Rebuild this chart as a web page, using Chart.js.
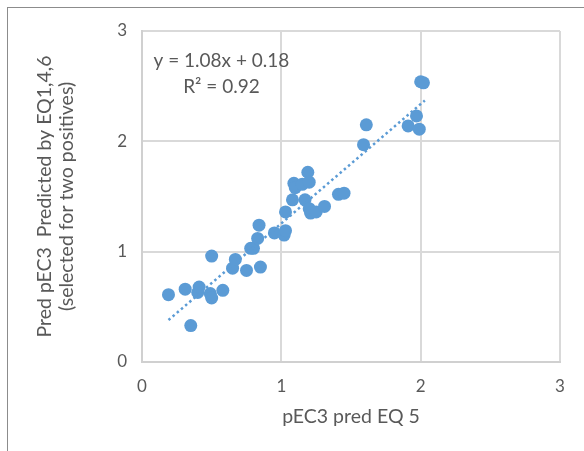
<!DOCTYPE html>
<html>
<head>
<meta charset="utf-8">
<script src="https://cdn.jsdelivr.net/npm/chart.js@4"></script>
<style>
  html, body { margin: 0; padding: 0; background: #fff; }
  #wrap { position: relative; width: 584px; height: 451px; overflow: hidden; }
  #frame { position: absolute; left: 7px; top: 7px; width: 620px; height: 480px;
           border-left: 1px solid #8c8c8c; border-top: 1px solid #8c8c8c; pointer-events: none; }
</style>
</head>
<body>
<div id="wrap">
  <canvas id="scatterChart" width="584" height="451"></canvas>
  <div id="frame"></div>
</div>
<script>
// pEC3 pred EQ 5 (x) vs Pred pEC3 by EQ1,4,6 (y)
const xValues = [0.19, 0.31, 0.35, 0.40, 0.41, 0.50, 0.49, 0.50, 0.58, 0.65,
                 0.67, 0.75, 0.78, 0.80, 0.83, 0.84, 0.85, 0.95, 1.02, 1.03,
                 1.03, 1.08, 1.09, 1.10, 1.15, 1.17, 1.19, 1.20, 1.20, 1.21,
                 1.25, 1.31, 1.41, 1.45, 1.59, 1.61, 1.91, 1.97, 1.99, 2.00, 2.02];
const yValues = [0.61, 0.66, 0.33, 0.63, 0.68, 0.96, 0.62, 0.58, 0.65, 0.85,
                 0.93, 0.83, 1.03, 1.03, 1.12, 1.24, 0.86, 1.17, 1.15, 1.19,
                 1.36, 1.47, 1.62, 1.58, 1.61, 1.47, 1.72, 1.63, 1.39, 1.35,
                 1.36, 1.41, 1.52, 1.53, 1.97, 2.15, 2.14, 2.23, 2.11, 2.54, 2.53];
// linear trendline end points (y = 1.08x + 0.18)
const trendX = [0.19, 2.03];
const trendY = [0.38, 2.37];
const tickValues = [0, 1, 2, 3];
const equationLines = ['y = 1.08x + 0.18', 'R² = 0.92'];

const FONT = 'Lato, "Open Sans", sans-serif';
const TEXT = '#595959';
const BLUE = '#5B9BD5';

const equationLabel = {
    id: 'equationLabel',
    afterDatasetsDraw(chart) {
        const {ctx, scales: {x, y}} = chart;
        ctx.save();
        ctx.font = '19px ' + FONT;
        ctx.fillStyle = TEXT;
        ctx.textAlign = 'center';
        ctx.textBaseline = 'middle';
        ctx.fillText(equationLines[0], x.getPixelForValue(0.57), y.getPixelForValue(2.73));
        ctx.fillText(equationLines[1], x.getPixelForValue(0.57), y.getPixelForValue(2.49));
        ctx.restore();
    }
};

const ctx = document.getElementById('scatterChart').getContext('2d');
const scatterChart = new Chart(ctx, {
    type: 'scatter',
    data: {
        datasets: [{
            label: 'data',
            data: xValues.map((v, i) => ({x: v, y: yValues[i]})),
            backgroundColor: BLUE,
            borderColor: BLUE,
            borderWidth: 0,
            pointRadius: 6.5,
            order: 1
        }, {
            label: 'trend',
            type: 'line',
            data: trendX.map((v, i) => ({x: v, y: trendY[i]})),
            borderColor: BLUE,
            borderWidth: 2.5,
            borderDash: [2.5, 3],
            pointRadius: 0,
            fill: false,
            order: 0
        }]
    },
    options: {
        responsive: false,
        animation: false,
        layout: {
            padding: {left: 0, top: 31, right: 24, bottom: 19}
        },
        plugins: {
            legend: {display: false},
            tooltip: {enabled: false}
        },
        scales: {
            x: {
                type: 'linear',
                min: 0,
                max: 3,
                afterBuildTicks: (scale) => { scale.ticks = tickValues.map(v => ({value: v})); },
                afterFit: (scale) => { scale.height = 70; },
                grid: {color: '#d9d9d9', lineWidth: 2, drawTicks: false},
                border: {color: '#d0d0d0', width: 2},
                ticks: {color: TEXT, font: {family: FONT, size: 17}, padding: 14},
                title: {
                    display: true,
                    text: 'pEC3 pred EQ 5',
                    color: TEXT,
                    font: {family: FONT, size: 19.5, lineHeight: 1.13},
                    padding: {top: 0, bottom: 4}
                }
            },
            y: {
                type: 'linear',
                min: 0,
                max: 3,
                afterBuildTicks: (scale) => { scale.ticks = tickValues.map(v => ({value: v})); },
                afterFit: (scale) => { scale.width = 142; },
                grid: {color: '#d9d9d9', lineWidth: 2, drawTicks: false},
                border: {color: '#d0d0d0', width: 2},
                ticks: {color: TEXT, font: {family: FONT, size: 17}, padding: 15},
                title: {
                    display: true,
                    text: ['Pred pEC3  Predicted by EQ1,4,6', '(selected for two positives)'],
                    color: TEXT,
                    font: {family: FONT, size: 19.5, lineHeight: 1.13},
                    padding: {top: 34, bottom: 0}
                }
            }
        }
    },
    plugins: [equationLabel]
});
</script>
</body>
</html>
